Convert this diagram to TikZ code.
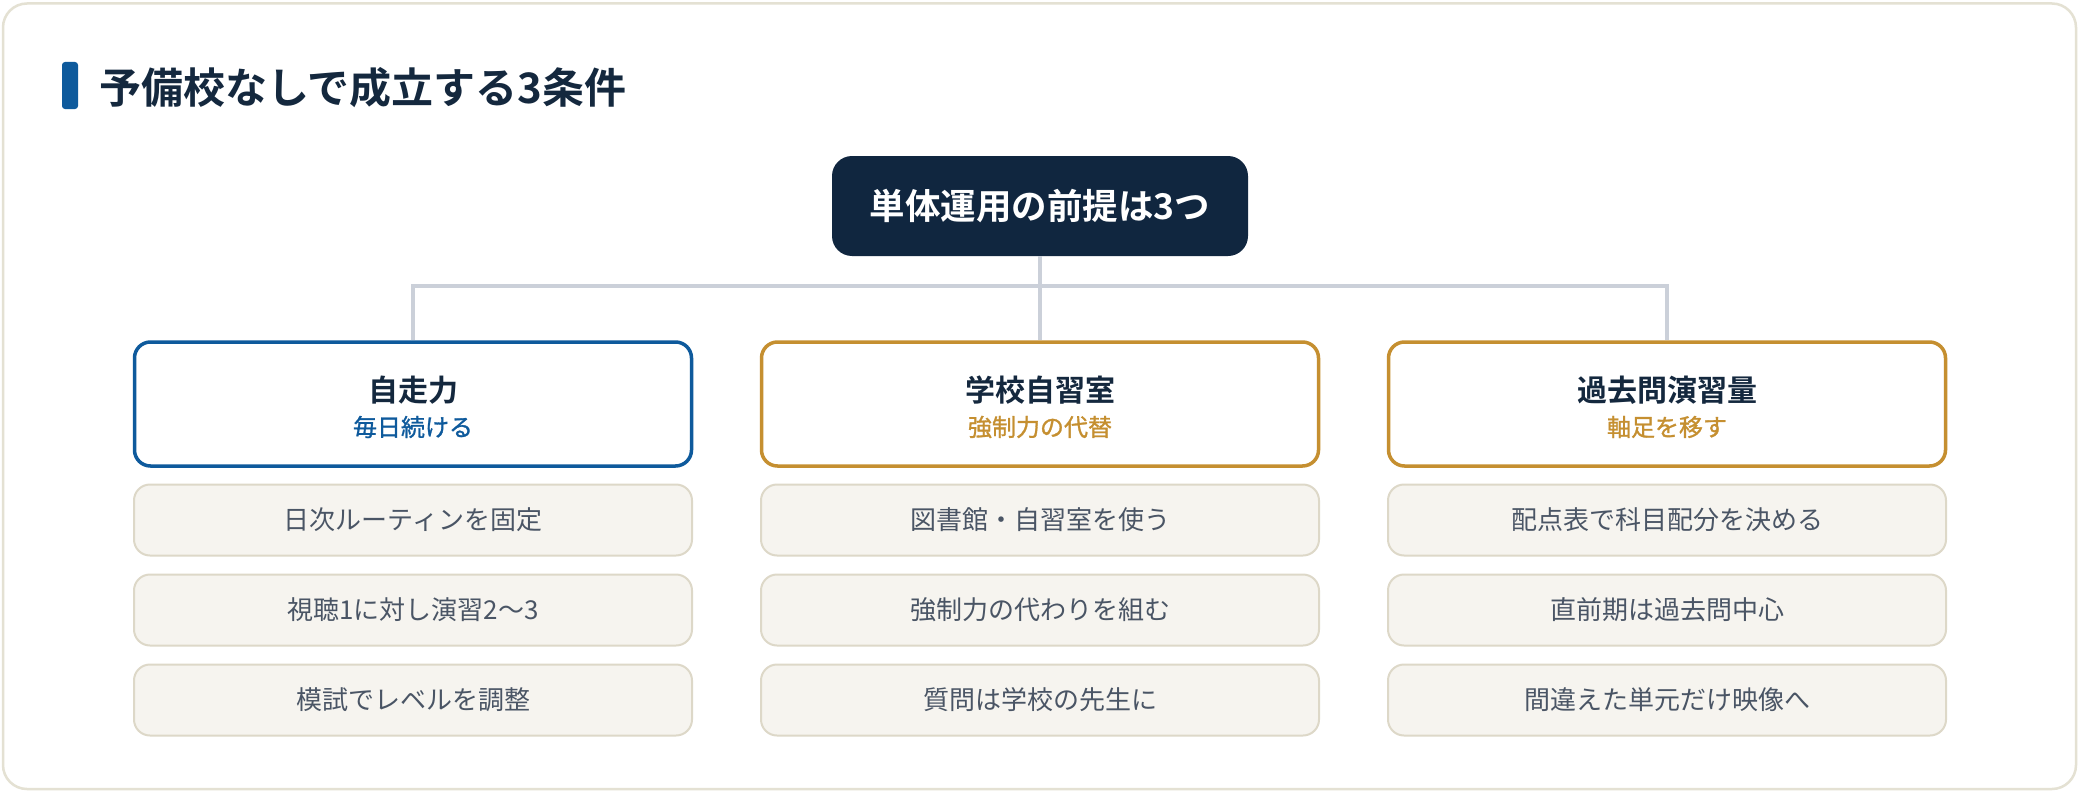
\documentclass[tikz,border=0pt]{standalone}
\usepackage{fontspec}
\setmainfont{Noto Sans CJK JP}
\newfontfamily\jpb{Noto Sans CJK JP Bold}
\newfontfamily\jpm{Noto Sans CJK JP}[RawFeature={embolden=1.2}]
\definecolor{navy}{HTML}{10263F}
\definecolor{titlec}{HTML}{14283E}
\definecolor{blueac}{HTML}{0E5A9C}
\definecolor{goldac}{HTML}{C58F30}
\definecolor{cardb}{HTML}{E4E1D3}
\definecolor{connc}{HTML}{CBD0D9}
\definecolor{itemf}{HTML}{F6F4EF}
\definecolor{itemb}{HTML}{DDD8C8}
\definecolor{itemt}{HTML}{4A5565}
\tikzset{
  topbox/.style={fill=navy, rounded corners=20pt, minimum width=416pt, minimum height=100pt, inner sep=0pt, text=white, font=\jpb\fontsize{35.5}{42}\selectfont},
  headbox/.style={draw=#1, line width=3.5pt, fill=white, rounded corners=16pt, minimum width=557pt, minimum height=124pt, inner sep=0pt},
  headtitle/.style={inner sep=0pt, text=titlec, font=\jpb\fontsize{30}{36}\selectfont},
  headsub/.style={inner sep=0pt, text=#1, font=\jpm\fontsize{24}{29}\selectfont},
  itembox/.style={draw=itemb, line width=2pt, fill=itemf, rounded corners=16pt, minimum width=558pt, minimum height=71pt, inner sep=0pt, text=itemt, font=\fontsize{26}{31}\selectfont},
  conn/.style={draw=connc, line width=3.5pt, line join=miter}
}
\begin{document}
\begin{tikzpicture}[x=1pt,y=-1pt]
\useasboundingbox (0,0) rectangle (2080,792);
\fill[white] (0,0) rectangle (2080,792);
% card
\draw[cardb, line width=2.5pt, fill=white, rounded corners=24pt] (3,3.5) rectangle (2076,789);
% title
\fill[blueac, rounded corners=3pt] (62,62) rectangle (78,109);
\node[anchor=west, inner sep=0pt, text=titlec, font=\jpb\fontsize{42}{50}\selectfont] (title) at (99,88) {予備校なしで成立する3条件};
% top node
\node[topbox] (top) at (1040,206) {単体運用の前提は3つ};
% header boxes
\node[headbox=blueac] (h1) at (413,404) {};
\node[headbox=goldac] (h2) at (1040,404) {};
\node[headbox=goldac] (h3) at (1667,404) {};
\node[headtitle] (h1t) at (413,390) {自走力};
\node[headsub=blueac] (h1s) at (413,427) {毎日続ける};
\node[headtitle] (h2t) at (1040,390) {学校自習室};
\node[headsub=goldac] (h2s) at (1040,427) {強制力の代替};
\node[headtitle] (h3t) at (1667,390) {過去問演習量};
\node[headsub=goldac] (h3s) at (1667,427) {軸足を移す};
% connectors
\coordinate (jn) at (1040,286);
\draw[conn] (top.south) -- (h2.north);
\draw[conn] (h1.north) |- (jn) -| (h3.north);
% items
\node[itembox] (a1) at (413,520) {日次ルーティンを固定};
\node[itembox] (a2) at (413,610) {視聴1に対し演習2〜3};
\node[itembox] (a3) at (413,700) {模試でレベルを調整};
\node[itembox] (b1) at (1040,520) {図書館・自習室を使う};
\node[itembox] (b2) at (1040,610) {強制力の代わりを組む};
\node[itembox] (b3) at (1040,700) {質問は学校の先生に};
\node[itembox] (c1) at (1667,520) {配点表で科目配分を決める};
\node[itembox] (c2) at (1667,610) {直前期は過去問中心};
\node[itembox] (c3) at (1667,700) {間違えた単元だけ映像へ};
\end{tikzpicture}
\end{document}
